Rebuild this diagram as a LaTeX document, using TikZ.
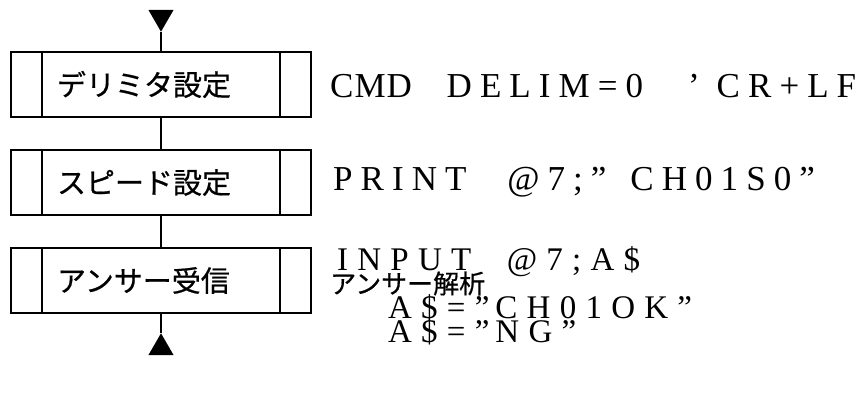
\documentclass[tikz,border=0pt]{standalone}
\usepackage{fontspec}
\setmainfont{Liberation Serif}
\newfontfamily\jp{Noto Sans CJK JP}[FakeBold=0.6]
\newfontfamily\codefont{Liberation Serif}[LetterSpace=23]
\newfontfamily\codefontb{Liberation Serif}[LetterSpace=28]
\usetikzlibrary{shapes.geometric}
\begin{document}
\begin{tikzpicture}[x=1pt,y=-1pt,
  pbox/.style={draw, line width=1.4pt, minimum height=65pt, text width=300pt,
    inner xsep=0pt, inner ysep=0pt, align=left, font=\jp\fontsize{29}{29}\selectfont,
    path picture={\draw[line width=1.4pt]
      ([xshift=31pt]path picture bounding box.north west) -- ([xshift=31pt]path picture bounding box.south west)
      ([xshift=-31pt]path picture bounding box.north east) -- ([xshift=-31pt]path picture bounding box.south east);}},
  tri/.style={regular polygon, regular polygon sides=3, fill=black, draw=none, inner sep=0pt, minimum size=29pt},
  conn/.style={line width=1.2pt},
  code/.style={anchor=base west, inner sep=0pt, font=\codefont\fontsize{35}{35}\selectfont},
  codeb/.style={anchor=base west, inner sep=0pt, font=\codefontb\fontsize{33}{33}\selectfont},
  jptext/.style={anchor=west, inner sep=0pt, font=\jp\fontsize{26}{26}\selectfont}]
\useasboundingbox (0,0) rectangle (864,397);
\node[tri, shape border rotate=180] (tin) at (161,17.2) {};
\node[pbox] (b1) at (161,84.5) {\hspace*{46pt}デリミタ設定};
\node[pbox] (b2) at (161,182.5) {\hspace*{46pt}スピード設定};
\node[pbox] (b3) at (161,280.5) {\hspace*{46pt}アンサー受信};
\node[tri] (tout) at (161,347.8) {};
\draw[conn] (tin.corner 1) -- (b1.north);
\draw[conn] (b1.south) -- (b2.north);
\draw[conn] (b2.south) -- (b3.north);
\draw[conn] (b3.south) -- (tout.corner 1);
\node[code] (c1) at (330,97) {C\kern1pt M\kern1pt D\hspace{18pt} DELIM=0\hspace{45pt}’\hspace{17pt}CR+LF};
\node[code] (c2) at (333,190) {PRINT\hspace{24pt} @7;”\hspace{24pt}CH01S0”};
\node[codeb] (c3) at (337,270) {INPUT\hspace{18pt} @7;A\$};
\node[jptext] (j1) at (330,283.5) {アンサー解析};
\node[codeb] (c4) at (388,318) {A\$=”\hspace{6pt}CH01OK”};
\node[codeb] (c5) at (388,342) {A\$=”\hspace{6pt}NG”};
\end{tikzpicture}
\end{document}
